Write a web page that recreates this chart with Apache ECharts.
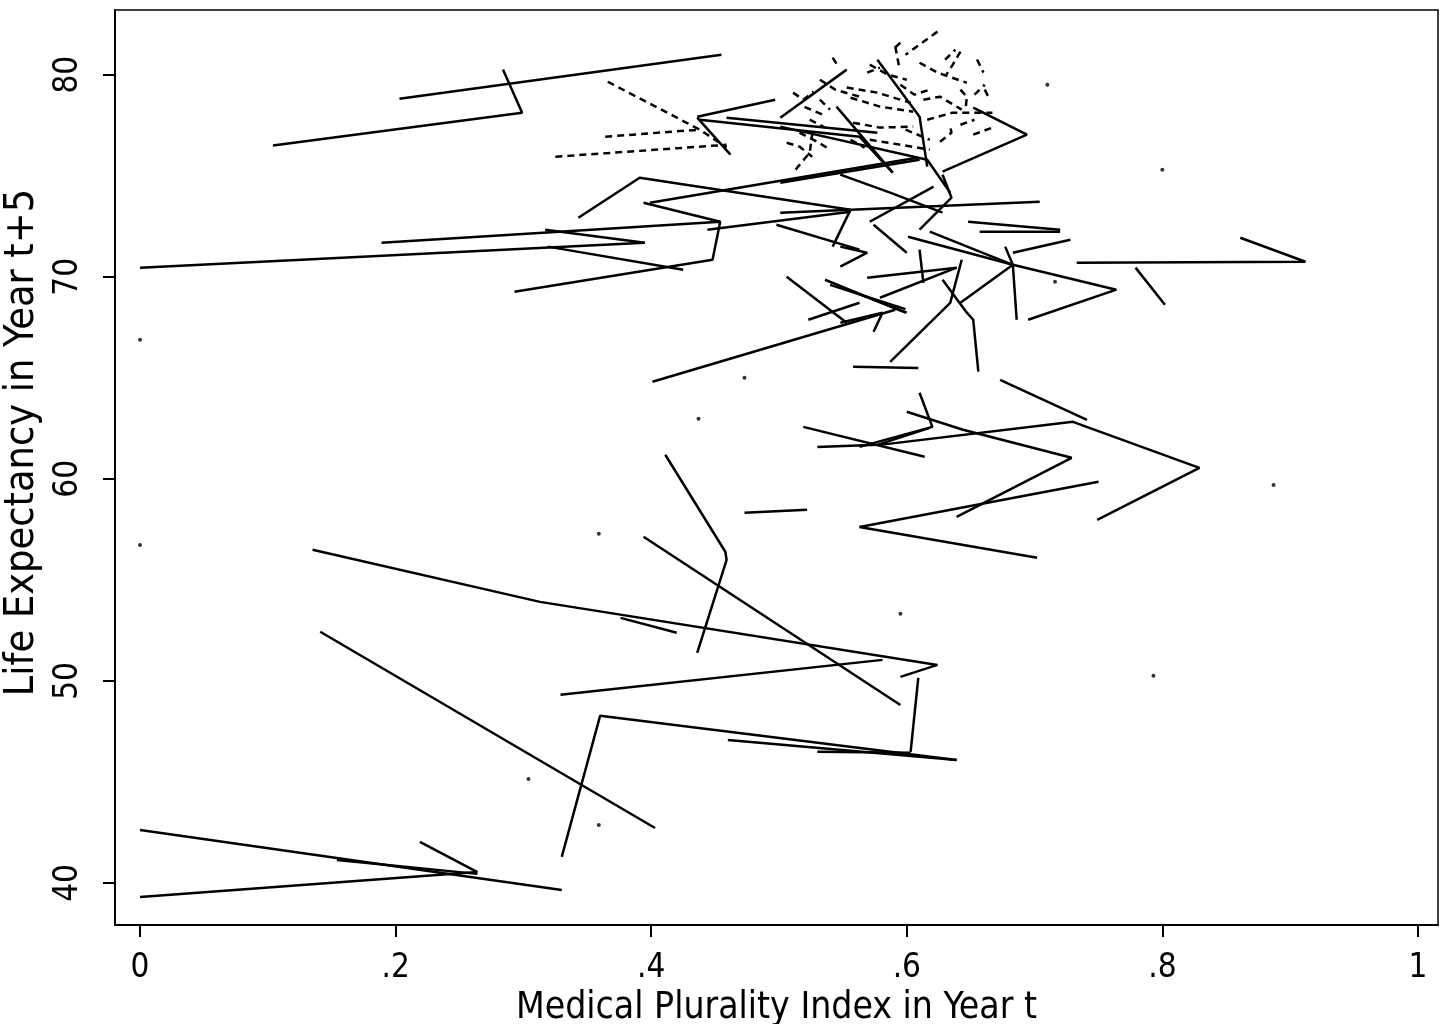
<!DOCTYPE html>
<html>
<head>
<meta charset="utf-8">
<script src="https://cdn.jsdelivr.net/npm/echarts@6/dist/echarts.min.js"></script>
<style>
html,body{margin:0;padding:0;background:#fff;}
#chart{width:1448px;height:1024px;}
</style>
</head>
<body>
<div id="chart"></div>
<script>
// Tick values / labels
const xTicks = [0, 0.2, 0.4, 0.6, 0.8, 1];
const xTickLabels = ['0', '.2', '.4', '.6', '.8', '1'];
const yTicks = [40, 50, 60, 70, 80];
const yTickLabels = ['40', '50', '60', '70', '80'];

// Solid country trajectories (x = medical plurality index, y = life expectancy t+5)
const solidUpper = [
  [[0.104,76.49],[0.299,78.12],[0.284,80.25]],
  [[0.203,78.81],[0.455,80.99]],
  [[0,70.45],[0.395,71.68]],
  [[0.189,71.68],[0.454,72.72],[0.448,70.84],[0.293,69.26]],
  [[0.317,72.33],[0.395,71.68]],
  [[0.319,71.49],[0.425,70.35]],
  [[0.343,72.92],[0.391,74.90],[0.556,73.32],[0.542,71.49]],
  [[0.394,73.66],[0.454,72.72]],
  [[0.399,73.66],[0.608,75.89]],
  [[0.444,72.33],[0.556,73.22]],
  [[0.498,72.57],[0.563,71.34]],
  [[0.436,77.92],[0.497,78.76]],
  [[0.436,77.87],[0.462,76.04]],
  [[0.438,77.77],[0.563,76.93],[0.589,75.15]],
  [[0.459,77.87],[0.577,77.13]],
  [[0.501,77.87],[0.553,80.25]],
  [[0.501,77.43],[0.616,75.79],[0.634,74.16]],
  [[0.545,78.42],[0.589,75.15]],
  [[0.577,80.74],[0.610,77.92],[0.616,75.45]],
  [[0.501,74.65],[0.610,75.79]],
  [[0.652,78.37],[0.694,77.03],[0.628,75.20]],
  [[0.501,73.17],[0.704,73.71]],
  [[0.548,75.05],[0.587,74.16],[0.628,73.17]],
  [[0.628,75.05],[0.635,73.91],[0.610,72.33]],
  [[0.548,71.49],[0.569,71.19],[0.548,70.50]],
  [[0.571,72.72],[0.621,74.46]],
  [[0.574,72.57],[0.600,71.19]],
  [[0.648,72.72],[0.720,72.33]],
  [[0.657,72.23],[0.720,72.23]],
  [[0.683,71.19],[0.728,71.83]],
  [[0.601,71.98],[0.683,70.59],[0.764,69.36],[0.695,67.87]],
  [[0.618,72.23],[0.683,70.59]],
  [[0.677,71.49],[0.683,70.59],[0.686,67.87]],
  [[0.642,68.71],[0.683,70.59]],
  [[0.733,70.69],[0.912,70.74],[0.861,71.93]],
  [[0.779,70.45],[0.802,68.61]],
  [[0.569,69.95],[0.639,70.45]],
  [[0.579,68.96],[0.639,70.45]],
  [[0.548,69.50],[0.600,68.22]],
  [[0.548,67.72],[0.581,68.22],[0.574,67.28]],
  [[0.628,69.85],[0.647,68.22],[0.652,67.87],[0.656,65.30]],
  [[0.587,65.79],[0.634,68.71],[0.643,70.84]],
  [[0.558,65.54],[0.609,65.49]],
  [[0.610,71.34],[0.613,69.70]],
  [[0.401,64.80],[0.591,68.37]],
  [[0.506,70.00],[0.553,67.72]],
  [[0.523,67.87],[0.563,68.71]],
  [[0.536,69.85],[0.599,68.22]],
  [[0.540,69.60],[0.599,68.40]]
];
const solidMiddle = [
  [[0.600,63.32],[0.644,62.43],[0.729,61.04],[0.639,58.12]],
  [[0.579,61.68],[0.730,62.82],[0.829,60.54],[0.749,57.97]],
  [[0.673,64.90],[0.741,62.92]],
  [[0.563,57.62],[0.750,59.85]],
  [[0.563,57.62],[0.702,56.09]],
  [[0.610,64.26],[0.620,62.57],[0.563,61.58]],
  [[0.519,62.57],[0.614,61.09]],
  [[0.530,61.58],[0.577,61.68],[0.618,62.52]],
  [[0.473,58.32],[0.522,58.47]]
];
const solidLower = [
  [[0.411,61.19],[0.458,56.39],[0.459,55.99],[0.436,51.39]],
  [[0.394,57.13],[0.595,48.81]],
  [[0.135,56.49],[0.313,53.91],[0.624,50.79],[0.595,50.20]],
  [[0.376,53.12],[0.420,52.38]],
  [[0.329,49.31],[0.581,51.04]],
  [[0.609,50.15],[0.603,46.49]],
  [[0.330,41.29],[0.360,48.27],[0.639,46.09]],
  [[0.460,47.08],[0.639,46.09]],
  [[0.530,46.49],[0.603,46.44]],
  [[0.141,52.43],[0.403,42.72]],
  [[0,42.62],[0.330,39.65]],
  [[0,39.31],[0.264,40.54]],
  [[0.219,42.03],[0.264,40.54]],
  [[0.154,41.14],[0.264,40.45]]
];

// Dashed trajectories (high life-expectancy cluster)
const dashedLines = [
  [[0.325,75.94],[0.459,76.53]],
  [[0.364,76.93],[0.438,77.28]],
  [[0.366,79.65],[0.438,77.28],[0.459,76.39]],
  [[0.624,82.13],[0.610,81.49],[0.599,80.99]],
  [[0.591,81.39],[0.594,80.40]],
  [[0.542,80.84],[0.546,80.45]],
  [[0.511,79.11],[0.519,78.76],[0.527,79.16]],
  [[0.642,81.14],[0.636,80.50],[0.631,80.00]],
  [[0.610,80.59],[0.624,80.10],[0.647,79.60]],
  [[0.553,79.36],[0.577,79.11],[0.603,78.61]],
  [[0.556,78.86],[0.579,78.42],[0.605,78.17]],
  [[0.642,79.26],[0.647,78.91],[0.646,78.27]],
  [[0.558,77.62],[0.579,77.38],[0.605,77.43]],
  [[0.516,77.13],[0.530,76.68],[0.540,76.29]],
  [[0.506,76.63],[0.516,76.44],[0.526,75.94]],
  [[0.513,75.30],[0.524,76.14],[0.526,77.03]],
  [[0.616,77.77],[0.636,78.12],[0.667,78.12]],
  [[0.613,78.76],[0.626,78.91],[0.643,78.27]],
  [[0.626,76.68],[0.635,77.13],[0.634,77.43]],
  [[0.652,77.03],[0.667,77.38]],
  [[0.532,79.75],[0.544,79.26],[0.563,78.91]],
  [[0.571,76.78],[0.595,76.53],[0.618,76.29]],
  [[0.661,79.26],[0.665,78.76]],
  [[0.571,80.50],[0.585,80.00],[0.600,79.75]],
  [[0.655,80.75],[0.660,80.10]],
  [[0.520,78.40],[0.535,78.00]],
  [[0.595,81.58],[0.589,81.24]],
  [[0.569,80.10],[0.579,80.35]],
  [[0.595,79.50],[0.606,79.01],[0.618,79.26]],
  [[0.630,80.74],[0.638,81.24]],
  [[0.532,78.76],[0.540,78.27]],
  [[0.556,76.78],[0.567,76.39]],
  [[0.599,77.28],[0.618,76.78]],
  [[0.653,79.01],[0.661,79.50]],
  [[0.642,77.52],[0.653,77.77]],
  [[0.524,77.77],[0.536,77.38]]
];

// Isolated single observations
const singlePoints = [
  [0,66.88],[0,56.73],[0.437,62.97],[0.359,57.28],[0.473,65.00],
  [0.595,53.32],[0.793,50.25],[0.887,59.70],[0.304,45.15],[0.359,42.87],
  [0.800,75.30],[0.710,79.50],[0.716,69.75]
];

const FONT = "'DejaVu Sans Condensed', 'Liberation Sans Narrow', 'Liberation Sans', sans-serif";

const series = [];
function addLines(list, dashed) {
  list.forEach(pl => {
    series.push({
      type: 'line', data: pl, symbol: 'none', silent: true,
      lineStyle: { color: '#000', width: 2.5, type: dashed ? [7, 5] : 'solid' },
      animation: false
    });
  });
}
addLines(solidUpper, false);
addLines(solidMiddle, false);
addLines(solidLower, false);
addLines(dashedLines, true);
series.push({
  type: 'scatter', data: singlePoints, symbol: 'circle', symbolSize: 4,
  itemStyle: { color: '#000' }, silent: true, animation: false
});

const chart = echarts.init(document.getElementById('chart'), null, { renderer: 'canvas' });
chart.setOption({
  backgroundColor: '#fff',
  animation: false,
  grid: {
    left: 115, top: 10, right: 10, bottom: 99,
    show: true, borderColor: '#000', borderWidth: 1.5,
    containLabel: false, outerBoundsMode: 'none'
  },
  xAxis: {
    type: 'value', min: -0.0196, max: 1.0157,
    name: 'Medical Plurality Index in Year t',
    nameLocation: 'middle', nameGap: 61,
    nameTextStyle: { fontFamily: FONT, fontSize: 37, color: '#000' },
    axisLine: { show: true, onZero: false, lineStyle: { color: '#000', width: 2 } },
    axisTick: { show: true, customValues: xTicks, length: 12, lineStyle: { color: '#000', width: 2 } },
    axisLabel: {
      customValues: xTicks, margin: 27,
      fontFamily: FONT, fontSize: 33, color: '#000',
      formatter: v => { const i = xTicks.findIndex(t => Math.abs(t - v) < 1e-6); return i >= 0 ? xTickLabels[i] : ''; }
    },
    splitLine: { show: false }
  },
  yAxis: {
    type: 'value', min: 37.92, max: 83.2,
    name: 'Life Expectancy in Year t+5',
    nameLocation: 'middle', nameGap: 72, nameRotate: 90,
    nameTextStyle: { fontFamily: FONT, fontSize: 41, color: '#000', padding: [0, 0, 0, 50] },
    axisLine: { show: true, onZero: false, lineStyle: { color: '#000', width: 2 } },
    axisTick: { show: true, customValues: yTicks, length: 12, lineStyle: { color: '#000', width: 2 } },
    axisLabel: {
      customValues: yTicks, margin: 30, rotate: 90,
      fontFamily: FONT, fontSize: 33, color: '#000',
      formatter: v => { const i = yTicks.findIndex(t => Math.abs(t - v) < 1e-6); return i >= 0 ? yTickLabels[i] : ''; }
    },
    splitLine: { show: false }
  },
  series: series
});
</script>
</body>
</html>
